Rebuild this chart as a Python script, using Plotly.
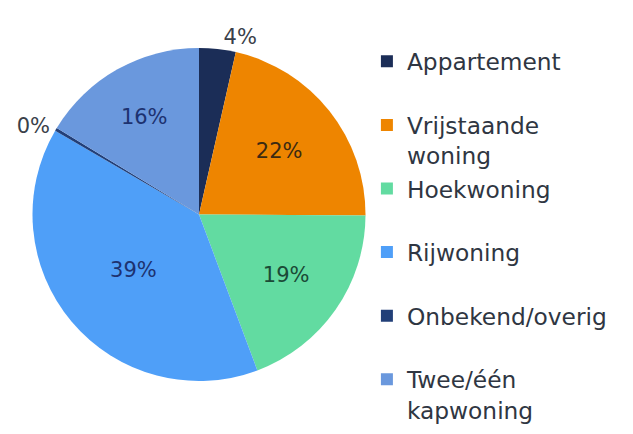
import plotly.graph_objects as go

# Data (share of dwellings by type, in %)
labels = ["Appartement", "Vrijstaande<br>woning", "Hoekwoning", "Rijwoning",
          "Onbekend/overig", "Twee/één<br>kapwoning"]
values = [3.55, 21.55, 19.2, 39.1, 0.3, 16.3]

slice_colors = ["#1b2d57", "#ee8500", "#62dba1", "#4f9ff8", "#223f78", "#6a98dd"]
label_colors = ["#3a3f4a", "#3b2a12", "#1b4a36", "#1d3270", "#3a3f4a", "#1d3270"]
text_pos = ["outside", "inside", "inside", "inside", "outside", "inside"]

# legend display text (blank line on single-line entries for even spacing)
legend_text = [l if "<br>" in l else l + "<br> " for l in labels]

fig = go.Figure(go.Pie(
    labels=legend_text,
    values=values,
    sort=False,
    direction="clockwise",
    rotation=0,
    marker=dict(colors=slice_colors, line=dict(width=0)),
    texttemplate="%{percent:.0%}",
    textposition=text_pos,
    insidetextorientation="horizontal",
    textfont=dict(family="DejaVu Sans", size=21, color=label_colors),
    domain=dict(x=[24/633, 358/633], y=[0, 1]),
    hoverinfo="label+percent",
))

fig.update_layout(
    width=633, height=434,
    margin=dict(l=0, r=0, t=40, b=61, autoexpand=False),
    paper_bgcolor="white",
    plot_bgcolor="white",
    font=dict(family="DejaVu Sans", color="#2f3642"),
    legend=dict(
        x=0.567, xanchor="left",
        y=1.025, yanchor="top",
        valign="top",
        maxheight=434,
        font=dict(family="DejaVu Sans", size=23.3, color="#2f3642"),
        bgcolor="rgba(0,0,0,0)",
    ),
    showlegend=True,
)

fig.write_html("out.html")
